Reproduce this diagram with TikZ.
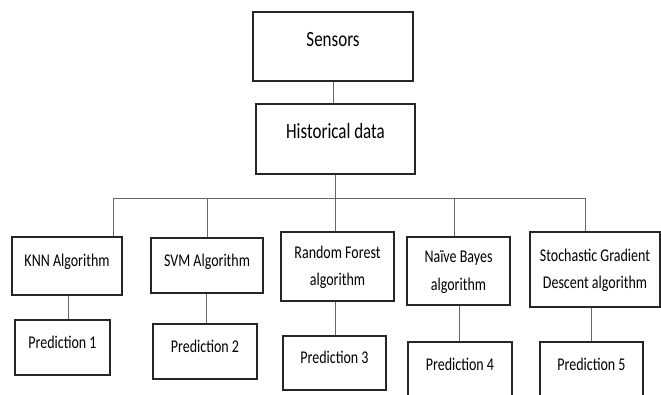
\documentclass[tikz,border=0pt]{standalone}
\usepackage{fontspec}
\setmainfont{Carlito}
\usepackage{tikz}

\newcommand{\alto}[1]{\scalebox{1}[1.28]{\begin{tabular}{@{}c@{}}#1\end{tabular}}}

\tikzset{
  caixa/.style={draw=black!85, line width=1.4pt, inner sep=0pt,
    font=\fontsize{14}{21.5}\selectfont},
  topo/.style={caixa, font=\fontsize{17}{20}\selectfont},
  linha/.style={text height=4pt, text depth=4pt},
  liga/.style={draw=black!60, line width=0.8pt}
}

\begin{document}
\begin{tikzpicture}[x=1pt, y=-1pt]
    % Area
    \clip (0,0) rectangle (661,394);
    % Topo
    \node[topo, linha, minimum width=160pt, minimum height=69pt] (sensors) at (333,46.5) {\alto{Sensors}};
    \node[topo, linha, minimum width=159pt, minimum height=70pt] (hist) at (335.5,139) {\alto{Historical data}};
    % Algoritmos
    \node[caixa, linha, minimum width=110pt, minimum height=58pt] (knn) at (67,266) {\alto{KNN Algorithm}};
    \node[caixa, linha, minimum width=112pt, minimum height=55pt] (svm) at (207,265.5) {\alto{SVM Algorithm}};
    \node[caixa, minimum width=113pt, minimum height=69pt] (rf) at (337.5,266.5) {\alto{Random Forest\\algorithm}};
    \node[caixa, minimum width=103pt, minimum height=68pt] (nb) at (458.5,271) {\alto{Naïve Bayes\\algorithm}};
    \node[caixa, minimum width=130pt, minimum height=75pt] (sgd) at (595,269.5) {\alto{Stochastic Gradient\\Descent algorithm}};
    % Previsoes
    \node[caixa, linha, minimum width=95pt, minimum height=55pt] (p1) at (62.5,347.5) {\alto{Prediction 1}};
    \node[caixa, linha, minimum width=104pt, minimum height=55pt] (p2) at (205,351.5) {\alto{Prediction 2}};
    \node[caixa, linha, minimum width=103pt, minimum height=54pt] (p3) at (334.5,363) {\alto{Prediction 3}};
    \node[caixa, linha, minimum width=104pt, minimum height=55pt] (p4) at (460,369.5) {\alto{Prediction 4}};
    \node[caixa, linha, minimum width=103pt, minimum height=55pt] (p5) at (591.5,369.5) {\alto{Prediction 5}};
    % Barramento
    \coordinate (busL) at (113,198);
    \coordinate (busR) at (585,198);
    \draw[liga] (sensors.south) -- (sensors.south |- hist.north);
    \draw[liga] (hist.south) -- (hist.south |- busL);
    \draw[liga] (busL) -- (busR);
    \foreach \n/\x in {knn/113, svm/207, rf/335.5, nb/454, sgd/585} {
        \draw[liga] (\x,198) -- (\x,0 |- \n.north);
    }
    % Ligacoes
    \foreach \a/\b/\x in {knn/p1/68, svm/p2/206, rf/p3/335, nb/p4/459, sgd/p5/591} {
        \draw[liga] (\x,0 |- \a.south) -- (\x,0 |- \b.north);
    }
\end{tikzpicture}
\end{document}
